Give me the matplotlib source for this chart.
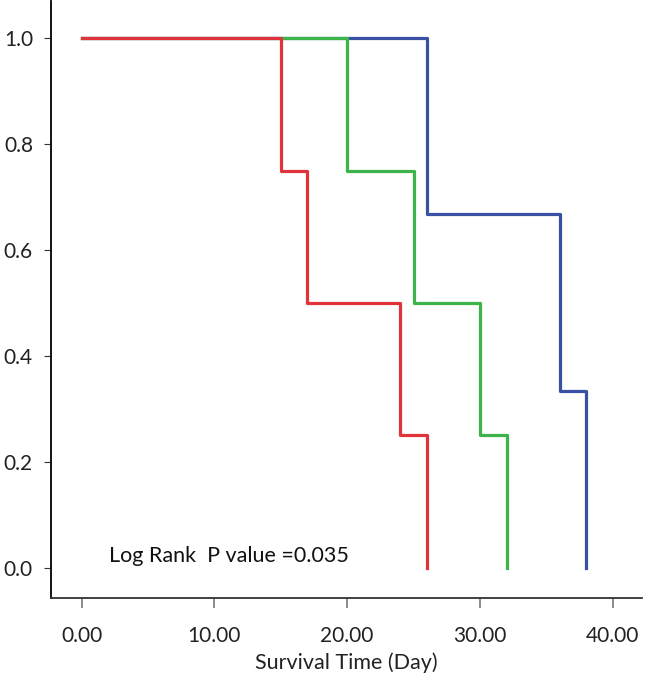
import matplotlib
matplotlib.use("Agg")
import matplotlib.pyplot as plt

plt.rcParams['font.family'] = ['Lato', 'DejaVu Sans']

# survival curves (time in days, survival fraction)
red_t = [0, 15, 17, 24, 26]
red_s = [1.0, 0.75, 0.5, 0.25, 0.0]
green_t = [0, 20, 25, 30, 32]
green_s = [1.0, 0.75, 0.5, 0.25, 0.0]
blue_t = [0, 26, 36, 38]
blue_s = [1.0, 0.667, 0.333, 0.0]

xticks = [0, 10, 20, 30, 40]
yticks = [0.0, 0.2, 0.4, 0.6, 0.8, 1.0]

fig = plt.figure(figsize=(6.5, 6.78), dpi=100)
ax = fig.add_axes([51 / 650, 1 - 598 / 678, 591 / 650, 597 / 678])

ax.step(blue_t, blue_s, where='post', color='#3a50a2', lw=2.3)
ax.step(green_t, green_s, where='post', color='#3cb44b', lw=2.3)
ax.step(red_t, red_s, where='post', color='#e0333c', lw=2.3)

ax.set_xlim(-2.3, 42.2)
ax.set_ylim(-0.057, 1.07)

ax.set_xticks(xticks)
ax.set_xticklabels(['%.2f' % v for v in xticks])
ax.set_yticks(yticks)
ax.set_yticklabels(['%.1f' % v for v in yticks])

for s in ['top', 'right']:
    ax.spines[s].set_visible(False)
ax.spines['left'].set_linewidth(1.3)
ax.spines['bottom'].set_linewidth(1.3)
ax.spines['bottom'].set_color('#333333')

ax.tick_params(axis='x', direction='out', length=7, width=1.2, color='#777777',
               pad=13, labelsize=15, labelcolor='#222222')
ax.tick_params(axis='y', direction='out', length=5, width=0.8, color='#333333',
               pad=8, labelsize=15, labelcolor='#222222')

ax.set_xlabel('Survival Time (Day)', fontsize=15.5, color='#222222', labelpad=5)

ax.text(2.1, 0.023, 'Log Rank  P value =0.035', fontsize=15.5, va='center',
        ha='left', color='#111111')

fig.savefig('out.png', dpi=100)
